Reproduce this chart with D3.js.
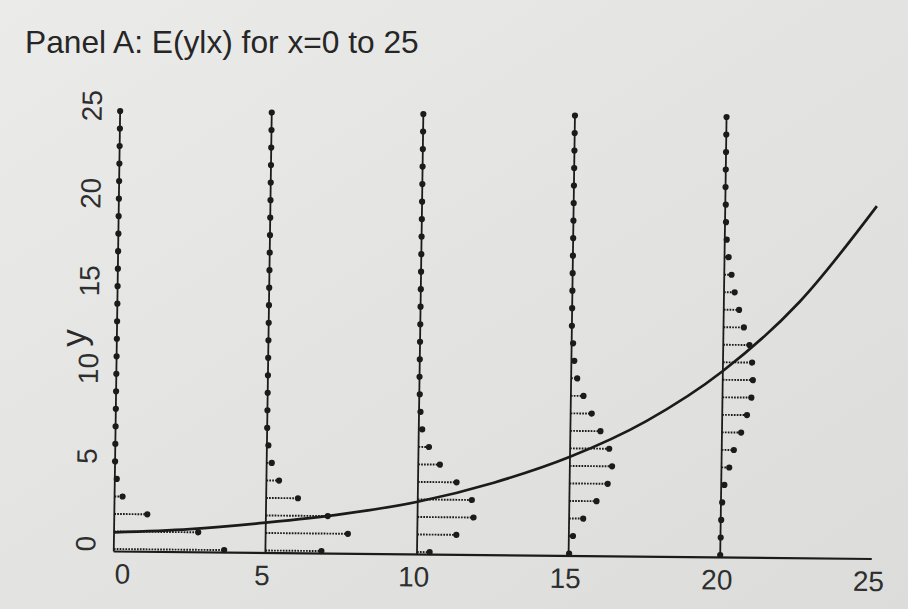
<!DOCTYPE html>
<html>
<head>
<meta charset="utf-8">
<script src="https://cdn.jsdelivr.net/npm/d3@7"></script>
<style>
  html, body { margin: 0; padding: 0; background: #e4e5e3; }
  svg { display: block; }
  text { font-family: "Liberation Sans", Arial, Helvetica, sans-serif; }
</style>
</head>
<body>
<svg id="chart" width="908" height="609"></svg>
<script>
// Values of x at which the conditional distribution of y is shown
const columnX = [0, 5, 10, 15, 20];
// Count values y = 0..25 marked on every column
const countLevels = d3.range(0, 26);

// Probability of each count y (index = y) at each column; counts not listed have ~0 probability
const probAt0  = [0.455, 0.347, 0.136, 0.033, 0.008];
const probAt5  = [0.231, 0.339, 0.255, 0.131, 0.052, 0.021, 0.006];
const probAt10 = [0.052, 0.161, 0.231, 0.223, 0.159, 0.089, 0.043, 0.014, 0.006, 0.002];
const probAt15 = [0.002, 0.017, 0.058, 0.112, 0.157, 0.174, 0.161, 0.124, 0.087, 0.052, 0.025, 0.012, 0.006];
const probAt20 = [0.000, 0.001, 0.002, 0.005, 0.013, 0.032, 0.050, 0.079, 0.102, 0.119, 0.124,
                  0.120, 0.108, 0.084, 0.063, 0.044, 0.030, 0.017, 0.008, 0.004, 0.002];
const columnProbs = [probAt0, probAt5, probAt10, probAt15, probAt20];

// Conditional mean E(y|x)
const meanX = [0, 2.5, 5, 7.5, 10, 12.5, 15, 17.5, 20, 22.5, 25];
const meanY = [0.95, 1.18, 1.59, 2.12, 2.87, 4.0, 5.52, 7.6, 10.5, 14.5, 20.0];

// Axis tick labels
const xTicks = [0, 5, 10, 15, 20, 25];
const yTicks = [0, 5, 10, 15, 20, 25];

const titleText = "Panel A: E(ylx) for x=0 to 25";
const yTitle = "y";

// A probability of 1 spans this many x units to the right of its column
const probWidth = 8;

const svg = d3.select("#chart");

// paper tone
const defs = svg.append("defs");
const grad = defs.append("linearGradient").attr("id", "paper")
  .attr("x1", "0").attr("y1", "0").attr("x2", "1").attr("y2", "1");
grad.append("stop").attr("offset", "0").attr("stop-color", "#ebebea");
grad.append("stop").attr("offset", "0.5").attr("stop-color", "#e3e4e2");
grad.append("stop").attr("offset", "1").attr("stop-color", "#dcdddb");
svg.append("rect").attr("width", 908).attr("height", 609).attr("fill", "url(#paper)");

const ink = "#1b1b1b";

// title
svg.append("text")
  .attr("x", 25).attr("y", 53)
  .attr("font-size", 31.7)
  .attr("fill", "#262626")
  .text(titleText);

// y axis title
svg.append("text")
  .attr("transform", "translate(73,338) rotate(-90)")
  .attr("text-anchor", "middle")
  .attr("dominant-baseline", "central")
  .attr("font-size", 35)
  .attr("fill", "#2a2a2a")
  .text(yTitle);

const x = d3.scaleLinear().domain([0, 25]).range([0, 758]);
const y = d3.scaleLinear().domain([0, 25]).range([0, -438]);

// the x axis sits just under the zero-count row so its spikes stay visible
const axisY = y(0) + 2.5;

// plot frame, slightly tilted like the printed page
const plot = svg.append("g")
  .attr("transform", "matrix(1,0.0099,-0.0145,1,113.8,549)");

// x axis baseline
plot.append("line")
  .attr("x1", x(0)).attr("x2", x(25))
  .attr("y1", axisY).attr("y2", axisY)
  .attr("stroke", ink).attr("stroke-width", 2.2);

// x tick labels (zero nudged clear of the first column)
plot.selectAll(".xt").data(xTicks).enter().append("text")
  .attr("class", "xt")
  .attr("x", d => x(d) + (d === 0 ? 9 : -3))
  .attr("y", 25)
  .attr("text-anchor", "middle")
  .attr("dominant-baseline", "central")
  .attr("font-size", 28)
  .attr("fill", "#2e2e2e")
  .text(d => d);

// y tick labels, rotated
plot.selectAll(".yt").data(yTicks).enter().append("text")
  .attr("class", "yt")
  .attr("transform", d => `translate(-28,${y(d) - 5}) rotate(-90)`)
  .attr("text-anchor", "middle")
  .attr("dominant-baseline", "central")
  .attr("font-size", 28)
  .attr("fill", "#2e2e2e")
  .text(d => d);

// columns: vertical line, probability spikes and dots
columnX.forEach((cx, ci) => {
  const probs = columnProbs[ci];
  const g = plot.append("g");

  g.append("line")
    .attr("x1", x(cx)).attr("x2", x(cx))
    .attr("y1", axisY).attr("y2", y(25))
    .attr("stroke", ink).attr("stroke-width", 1.8);

  const pts = countLevels.map(k => ({ k, p: k < probs.length ? probs[k] : 0 }));

  g.selectAll(".spike").data(pts.filter(d => d.p > 0)).enter().append("line")
    .attr("class", "spike")
    .attr("x1", x(cx))
    .attr("x2", d => x(cx + d.p * probWidth))
    .attr("y1", d => y(d.k)).attr("y2", d => y(d.k))
    .attr("stroke", ink).attr("stroke-width", 1.9)
    .attr("stroke-dasharray", "1.7,1.2");

  g.selectAll(".dot").data(pts).enter().append("circle")
    .attr("class", "dot")
    .attr("cx", d => x(cx + d.p * probWidth))
    .attr("cy", d => y(d.k))
    .attr("r", 3.1)
    .attr("fill", ink);
});

// conditional mean curve
const line = d3.line()
  .x((d, i) => x(meanX[i]))
  .y(d => y(d))
  .curve(d3.curveMonotoneX);

plot.append("path")
  .datum(meanY)
  .attr("d", line)
  .attr("fill", "none")
  .attr("stroke", ink)
  .attr("stroke-width", 2.7);
</script>
</body>
</html>
